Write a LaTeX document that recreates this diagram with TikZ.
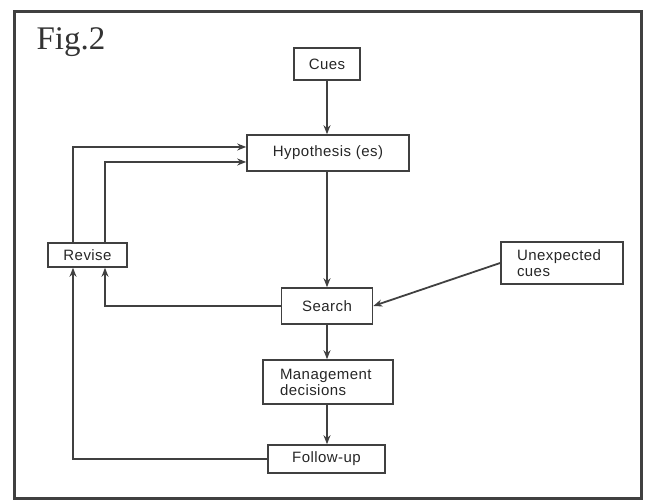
\documentclass[tikz,border=0pt]{standalone}
\usepackage{fontspec}
\setmainfont{Liberation Sans}[LetterSpace=3]
\newfontfamily\figfont{Liberation Serif}
\usetikzlibrary{arrows.meta}
\tikzset{
  box/.style={draw=black!75, line width=1.6pt, inner sep=0pt, font=\fontsize{15}{16}\selectfont, text=black!85},
  arr/.style={draw=black!75, line width=1.8pt, -{Stealth[length=9pt,width=7pt]}},
}
\begin{document}
\begin{tikzpicture}[x=1pt,y=1pt]
      \useasboundingbox (0,0) rectangle (649,502);
      \draw[black!75, line width=3pt] (14,3) rectangle (641,490);
      \node[anchor=base west, font=\figfont\fontsize{33}{33}\selectfont, text=black!80] (fig) at (33,452) {Fig.2};
      % boxes
      \node[box, minimum width=66pt, minimum height=32pt] (cues) at (327,438) {Cues};
      \node[box, minimum width=162pt, minimum height=36pt] (hyp) at (328,349) {Hypothesis (es)};
      \node[box, minimum width=79pt, minimum height=24pt] (revise) at (87.5,247) {Revise};
      \node[box, minimum width=91pt, minimum height=36pt] (search) at (327,196) {Search};
      \node[box, align=left, text width=90pt, inner xsep=16pt, minimum height=42pt] (unexp) at (562,239) {Unexpected\\cues};
      \node[box, align=left, text width=96pt, inner xsep=17pt, minimum height=44pt] (decide) at (328,120) {Management\\decisions};
      \node[box, minimum width=117pt, minimum height=28pt] (follow) at (326.5,43) {Follow-up};
      \coordinate (lo) at (73,355);
      \coordinate (li) at (105,340);
      % connectors
      \begin{scope}
        \draw[arr] (cues.south) -- (cues.south |- hyp.north);
        \draw[arr] (hyp.south -| cues.south) -- (cues.south |- search.north);
        \draw[arr] (search.south -| cues.south) -- (cues.south |- decide.north);
        \draw[arr] (decide.south -| cues.south) -- (cues.south |- follow.north);
        \draw[arr] (unexp.west) -- (search.east);
        \draw[arr] (revise.north -| lo) |- (hyp.west |- lo);
        \draw[arr] (revise.north -| li) |- (hyp.west |- li);
        \draw[arr] (search.west) -| (revise.south -| li);
        \draw[arr] (follow.west) -| (revise.south -| lo);
      \end{scope}
    \end{tikzpicture}
\end{document}
